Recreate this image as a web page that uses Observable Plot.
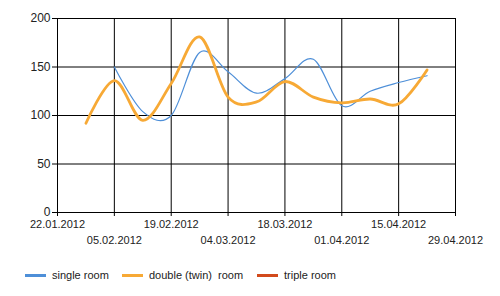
<!DOCTYPE html>
<html>
<head>
<meta charset="utf-8">
<script src="https://cdn.jsdelivr.net/npm/d3@7"></script>
<script src="https://cdn.jsdelivr.net/npm/@observablehq/plot@0.6"></script>
<style>
  html, body { margin: 0; padding: 0; background: #fff; }
  body { width: 500px; height: 296px; position: relative; overflow: hidden; font-family: "Liberation Sans", Arial, sans-serif; }
  #legend { position: absolute; left: 0; top: 266px; width: 500px; height: 18px; font-size: 11px; color: #222; }
  .item { position: absolute; top: 0; height: 18px; display: flex; align-items: center; }
  .sw { width: 21px; height: 3px; margin-right: 6px; }
</style>
</head>
<body>
<div id="chart"></div>
<div id="legend"></div>
<script>
// Tick dates (every two weeks)
const tickDates = ["2012-01-22","2012-02-05","2012-02-19","2012-03-04","2012-03-18","2012-04-01","2012-04-15","2012-04-29"];
// Series
const seriesNames = ["single room", "double (twin)  room", "triple room"];
const seriesColors = ["#4e8fd8", "#f7a935", "#d24a1c"];

const singleDates = ["2012-02-05","2012-02-12","2012-02-19","2012-02-26","2012-03-04","2012-03-11","2012-03-18","2012-03-25","2012-04-01","2012-04-08","2012-04-15","2012-04-22"];
const singleValues = [150, 104, 100, 165, 145, 123, 138, 158, 110, 125, 134, 141];

const doubleDates = ["2012-01-29","2012-02-05","2012-02-12","2012-02-19","2012-02-26","2012-03-04","2012-03-11","2012-03-18","2012-03-25","2012-04-01","2012-04-08","2012-04-15","2012-04-22"];
const doubleValues = [92, 136, 95, 133, 181, 119, 114, 135, 119, 113, 117, 112, 147];

const tripleDates = [];
const tripleValues = [];

const yTicks = [0, 50, 100, 150, 200];

const parse = d3.utcParse("%Y-%m-%d");
const fmt = d3.utcFormat("%d.%m.%Y");
const ticks = tickDates.map(parse);
const row1 = ticks.filter((d, i) => i % 2 === 0);
const row2 = ticks.filter((d, i) => i % 2 === 1);

const single = singleDates.map((d, i) => ({date: parse(d), value: singleValues[i]}));
const dbl = doubleDates.map((d, i) => ({date: parse(d), value: doubleValues[i]}));
const triple = tripleDates.map((d, i) => ({date: parse(d), value: tripleValues[i]}));

const chart = Plot.plot({
  width: 500,
  height: 256,
  marginLeft: 57,
  marginRight: 45,
  marginTop: 18,
  marginBottom: 44,
  style: {fontFamily: "'Liberation Sans', Arial, sans-serif", color: "#222", background: "#fff"},
  x: {type: "utc", domain: [ticks[0], ticks[ticks.length - 1]]},
  y: {domain: [0, 200]},
  marks: [
    Plot.ruleX(ticks, {stroke: "#000", strokeWidth: 1}),
    Plot.ruleY(yTicks, {stroke: "#000", strokeWidth: 1}),
    Plot.axisY(yTicks, {tickSize: 5, tickPadding: 2, fontSize: 12, stroke: "#000", strokeOpacity: 1, label: null}),
    Plot.axisX(row1, {tickSize: 4, tickPadding: 4, fontSize: 11, tickFormat: fmt, stroke: "#000", strokeOpacity: 1, label: null}),
    Plot.axisX(row2, {tickSize: 4, tickPadding: 20, fontSize: 11, tickFormat: fmt, stroke: "#000", strokeOpacity: 1, label: null}),
    Plot.line(triple, {x: "date", y: "value", stroke: seriesColors[2], strokeWidth: 3, curve: "cardinal"}),
    Plot.line(single, {x: "date", y: "value", stroke: seriesColors[0], strokeWidth: 1.2, curve: "cardinal"}),
    Plot.line(dbl, {x: "date", y: "value", stroke: seriesColors[1], strokeWidth: 2.8, curve: "cardinal"})
  ]
});
document.getElementById("chart").appendChild(chart);

const legend = document.getElementById("legend");
const lefts = [25, 122, 257];
seriesNames.forEach((name, i) => {
  const it = document.createElement("div");
  it.className = "item";
  it.style.left = lefts[i] + "px";
  const sw = document.createElement("span");
  sw.className = "sw";
  sw.style.background = seriesColors[i];
  const tx = document.createElement("span");
  tx.textContent = name;
  tx.style.whiteSpace = "pre";
  it.appendChild(sw);
  it.appendChild(tx);
  legend.appendChild(it);
});
</script>
</body>
</html>
